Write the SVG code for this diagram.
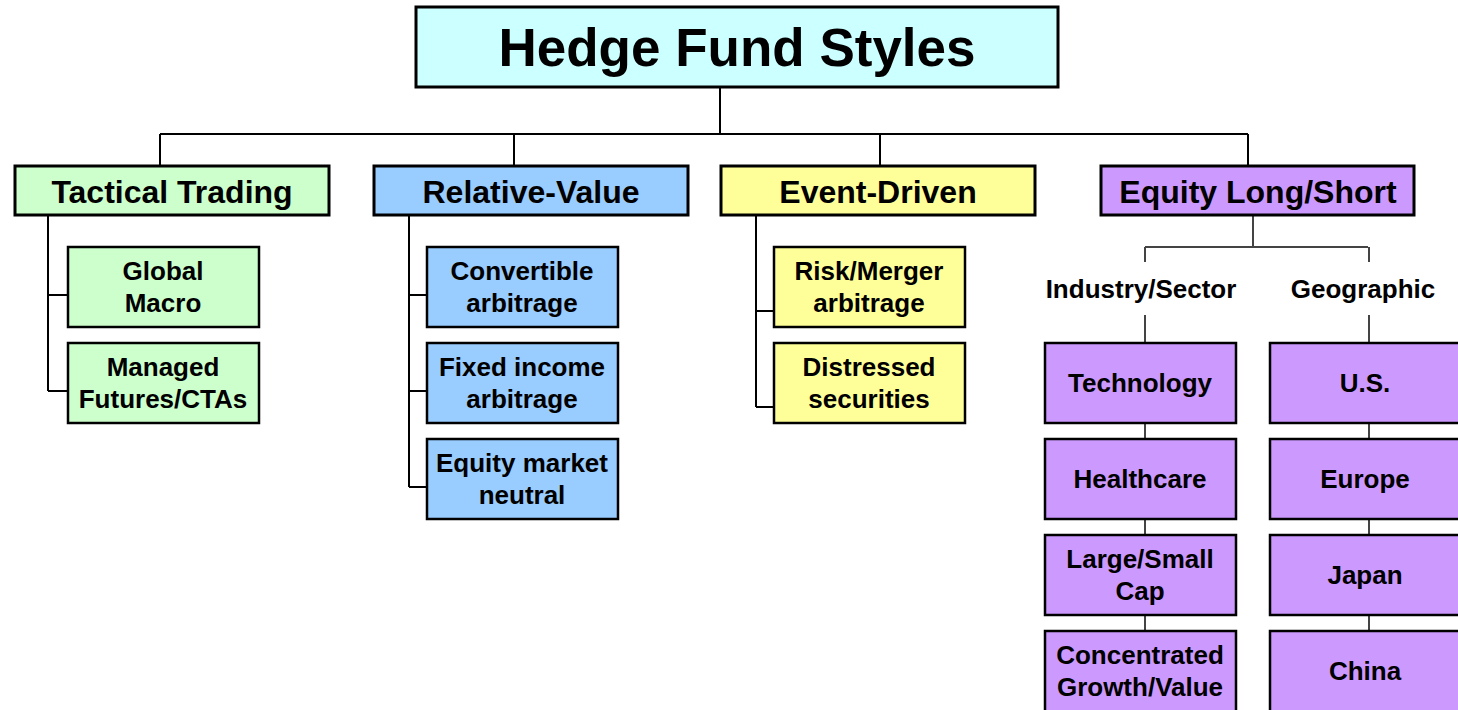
<svg xmlns="http://www.w3.org/2000/svg" width="1458" height="710" viewBox="0 0 1458 710">
<style>
text{font-family:"Liberation Sans",Arial,sans-serif;font-weight:bold;fill:#000;text-anchor:middle}
.t0{font-size:53px}
.t1{font-size:32px}
.t2{font-size:26px}
.box{stroke:#000;stroke-width:2.5}
.b1{stroke:#000;stroke-width:3}
.g{fill:#ccffcc}.b{fill:#99ccff}.y{fill:#ffff99}.p{fill:#cc99ff}.c{fill:#ccffff}
.ln{fill:none;stroke:#000;stroke-width:2}
.lg{fill:none;stroke:#444;stroke-width:2}
</style>
<rect width="1458" height="710" fill="#fff"/>
<g id="connectors">
<path class="ln" d="M720 87V134M160 134H1248M160 134V166M514 134V166M880 134V166M1248 134V166"/>
<path class="ln" d="M48 215V391M48 295H68M48 391H68"/>
<path class="ln" d="M409 215V487M409 295H427M409 391H427M409 487H427"/>
<path class="ln" d="M756 215V407M756 311H774M756 407H774"/>
<path class="lg" d="M1253 215V247M1145 247H1368M1145 247V262M1369 247V262"/>
<path class="lg" d="M1145 315V343M1145 423V439M1145 519V535M1145 615V631"/>
<path class="lg" d="M1369 315V343M1369 423V439M1369 519V535M1369 615V631"/>
</g>
<g id="title"><rect class="b1 c" x="416" y="7" width="642" height="80"/><text class="t0" x="737" y="66">Hedge Fund Styles</text></g>
<g id="tactical"><rect class="b1 g" x="15" y="166" width="314" height="49"/><text class="t1" x="172" y="203">Tactical Trading</text></g>
<g id="relative"><rect class="b1 b" x="374" y="166" width="314" height="49"/><text class="t1" x="531" y="203">Relative-Value</text></g>
<g id="event"><rect class="b1 y" x="721" y="166" width="314" height="49"/><text class="t1" x="878" y="203">Event-Driven</text></g>
<g id="equity"><rect class="b1 p" x="1101" y="166" width="313" height="49"/><text class="t1" x="1258" y="203">Equity Long/Short</text></g>

<g id="global-macro"><rect class="box g" x="68" y="247" width="191" height="80"/><text class="t2" x="163" y="280">Global</text><text class="t2" x="163" y="312">Macro</text></g>
<g id="managed-futures"><rect class="box g" x="68" y="343" width="191" height="80"/><text class="t2" x="163" y="376">Managed</text><text class="t2" x="163" y="408">Futures/CTAs</text></g>

<g id="convertible"><rect class="box b" x="427" y="247" width="191" height="80"/><text class="t2" x="522" y="280">Convertible</text><text class="t2" x="522" y="312">arbitrage</text></g>
<g id="fixed-income"><rect class="box b" x="427" y="343" width="191" height="80"/><text class="t2" x="522" y="376">Fixed income</text><text class="t2" x="522" y="408">arbitrage</text></g>
<g id="equity-market-neutral"><rect class="box b" x="427" y="439" width="191" height="80"/><text class="t2" x="522" y="472">Equity market</text><text class="t2" x="522" y="504">neutral</text></g>

<g id="risk-merger"><rect class="box y" x="774" y="247" width="191" height="80"/><text class="t2" x="869" y="280">Risk/Merger</text><text class="t2" x="869" y="312">arbitrage</text></g>
<g id="distressed"><rect class="box y" x="774" y="343" width="191" height="80"/><text class="t2" x="869" y="376">Distressed</text><text class="t2" x="869" y="408">securities</text></g>

<g id="industry-label"><text class="t2" x="1141" y="298">Industry/Sector</text></g>
<g id="geographic-label"><text class="t2" x="1363" y="298">Geographic</text></g>

<g id="technology"><rect class="box p" x="1045" y="343" width="191" height="80"/><text class="t2" x="1140" y="392">Technology</text></g>
<g id="healthcare"><rect class="box p" x="1045" y="439" width="191" height="80"/><text class="t2" x="1140" y="488">Healthcare</text></g>
<g id="large-small-cap"><rect class="box p" x="1045" y="535" width="191" height="80"/><text class="t2" x="1140" y="568">Large/Small</text><text class="t2" x="1140" y="600">Cap</text></g>
<g id="concentrated"><rect class="box p" x="1045" y="631" width="191" height="82"/><text class="t2" x="1140" y="664">Concentrated</text><text class="t2" x="1140" y="696">Growth/Value</text></g>

<g id="us"><rect class="box p" x="1270" y="343" width="191" height="80"/><text class="t2" x="1365" y="392">U.S.</text></g>
<g id="europe"><rect class="box p" x="1270" y="439" width="191" height="80"/><text class="t2" x="1365" y="488">Europe</text></g>
<g id="japan"><rect class="box p" x="1270" y="535" width="191" height="80"/><text class="t2" x="1365" y="584">Japan</text></g>
<g id="china"><rect class="box p" x="1270" y="631" width="191" height="82"/><text class="t2" x="1365" y="680">China</text></g>
</svg>
